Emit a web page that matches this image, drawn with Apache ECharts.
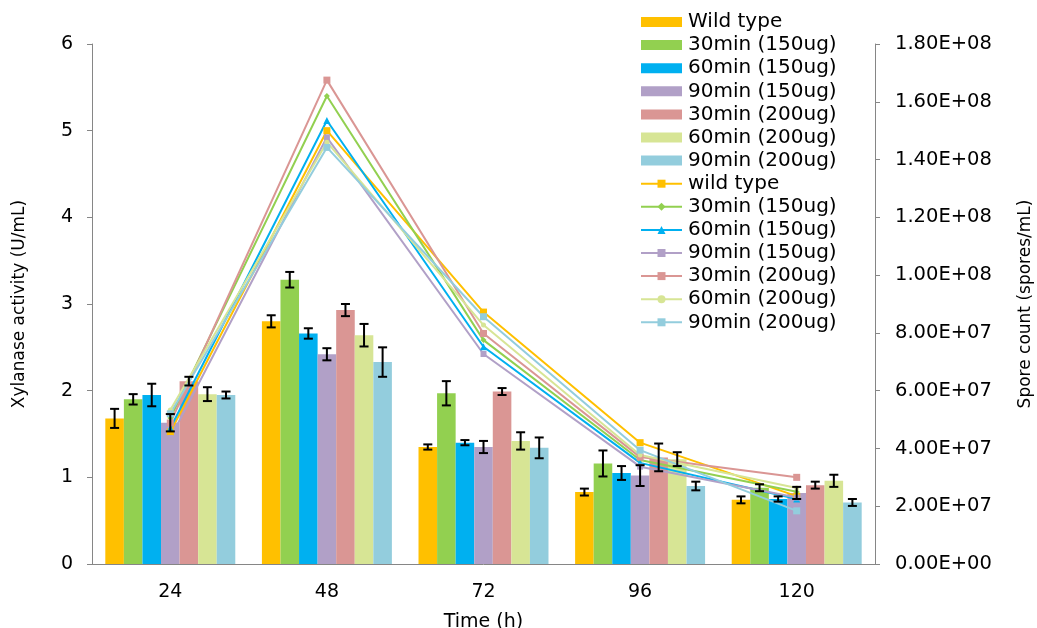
<!DOCTYPE html>
<html>
<head>
<meta charset="utf-8">
<script src="https://cdn.jsdelivr.net/npm/echarts@6/dist/echarts.min.js"></script>
<style>
  html, body { margin: 0; padding: 0; background: #fff; }
  #chart { width: 1037px; height: 628px; }
</style>
</head>
<body>
<div id="chart"></div>
<script>
// Sampling times (h)
var categories = ['24', '48', '72', '96', '120'];

// Xylanase activity (U/mL), bars
var actWild    = [1.68, 2.80, 1.35, 0.83, 0.74];
var act30_150  = [1.90, 3.28, 1.97, 1.16, 0.88];
var act60_150  = [1.95, 2.66, 1.40, 1.05, 0.75];
var act90_150  = [1.63, 2.42, 1.35, 1.02, 0.82];
var act30_200  = [2.11, 2.93, 1.99, 1.23, 0.91];
var act60_200  = [1.96, 2.64, 1.42, 1.21, 0.96];
var act90_200  = [1.95, 2.33, 1.34, 0.90, 0.71];

// Standard errors of xylanase activity
var errWild    = [0.11, 0.07, 0.03, 0.04, 0.04];
var err30_150  = [0.06, 0.09, 0.14, 0.15, 0.04];
var err60_150  = [0.13, 0.06, 0.03, 0.08, 0.03];
var err90_150  = [0.10, 0.07, 0.07, 0.12, 0.07];
var err30_200  = [0.05, 0.07, 0.04, 0.16, 0.04];
var err60_200  = [0.08, 0.13, 0.10, 0.08, 0.07];
var err90_200  = [0.04, 0.17, 0.12, 0.05, 0.04];

// Spore count (spores/mL), lines
var sporeWild   = [4.57e7, 1.50e8, 8.72e7, 4.20e7, 2.35e7];
var spore30_150 = [5.05e7, 1.62e8, 7.75e7, 3.60e7, 2.50e7];
var spore60_150 = [4.70e7, 1.535e8, 7.52e7, 3.50e7, 2.25e7];
var spore90_150 = [4.36e7, 1.477e8, 7.27e7, 3.37e7, 2.30e7];
var spore30_200 = [4.88e7, 1.675e8, 7.98e7, 3.70e7, 3.00e7];
var spore60_200 = [5.33e7, 1.46e8, 8.27e7, 3.77e7, 2.63e7];
var spore90_200 = [5.20e7, 1.442e8, 8.56e7, 3.94e7, 1.84e7];

var barNames  = ['Wild type', '30min (150ug)', '60min (150ug)', '90min (150ug)', '30min (200ug)', '60min (200ug)', '90min (200ug)'];
// line series need their own legend keys, so the duplicated labels carry a trailing space
var lineNames = ['wild type', '30min (150ug) ', '60min (150ug) ', '90min (150ug) ', '30min (200ug) ', '60min (200ug) ', '90min (200ug) '];

var colors = ['#FFC000', '#92D050', '#00B0F0', '#B1A0C7', '#DA9694', '#D7E595', '#93CDDD'];
var symbols = ['rect', 'diamond', 'triangle', 'rect', 'rect', 'circle', 'rect'];
var symbolSizes = [7, 6, 7, 6, 7, 5, 7];

var actSets = [actWild, act30_150, act60_150, act90_150, act30_200, act60_200, act90_200];
var errSets = [errWild, err30_150, err60_150, err90_150, err30_200, err60_200, err90_200];
var sporeSets = [sporeWild, spore30_150, spore60_150, spore90_150, spore30_200, spore60_200, spore90_200];

var FONT = 'DejaVu Sans';
var CAT_GAP = 0.17;
var NBARS = actSets.length;

function sci(v) {
  if (v === 0) return '0.00E+00';
  var e = Math.floor(Math.log10(Math.abs(v)) + 1e-9);
  var m = v / Math.pow(10, e);
  var es = (e < 0 ? '-' : '+') + (Math.abs(e) < 10 ? '0' : '') + Math.abs(e);
  return m.toFixed(2) + 'E' + es;
}

var series = [];
actSets.forEach(function (vals, i) {
  series.push({
    name: barNames[i],
    type: 'bar',
    data: vals,
    barGap: '0%',
    barCategoryGap: (CAT_GAP * 100) + '%',
    itemStyle: { color: colors[i] },
    z: 2
  });
});

// error bars: [category index, bar index, value, error]
var errData = [];
actSets.forEach(function (vals, i) {
  vals.forEach(function (v, c) { errData.push([c, i, v, errSets[i][c]]); });
});
series.push({
  type: 'custom',
  data: errData,
  encode: { x: 0, y: 2 },
  z: 5,
  silent: true,
  renderItem: function (params, api) {
    var c = api.value(0), i = api.value(1), v = api.value(2), e = api.value(3);
    var band = api.size([1, 0])[0];
    var bw = band * (1 - CAT_GAP) / NBARS;
    var off = (i - (NBARS - 1) / 2) * bw;
    var top = api.coord([c, v + e]);
    var bot = api.coord([c, v - e]);
    var x = top[0] + off;
    var cap = 4.5;
    var st = { stroke: '#000', lineWidth: 2 };
    return {
      type: 'group',
      children: [
        { type: 'line', shape: { x1: x, y1: top[1], x2: x, y2: bot[1] }, style: st },
        { type: 'line', shape: { x1: x - cap, y1: top[1], x2: x + cap, y2: top[1] }, style: st },
        { type: 'line', shape: { x1: x - cap, y1: bot[1], x2: x + cap, y2: bot[1] }, style: st }
      ]
    };
  }
});

sporeSets.forEach(function (vals, i) {
  series.push({
    name: lineNames[i],
    type: 'line',
    yAxisIndex: 1,
    data: vals,
    symbol: symbols[i],
    symbolSize: symbolSizes[i],
    showAllSymbol: true,
    lineStyle: { color: colors[i], width: 2 },
    itemStyle: { color: colors[i] },
    z: 4
  });
});

var legendData = barNames.map(function (n) { return { name: n, icon: 'rect' }; })
  .concat(lineNames.map(function (n) { return { name: n }; }));

var axisLineStyle = { color: '#868686', width: 1 };

var option = {
  animation: false,
  backgroundColor: '#ffffff',
  textStyle: { fontFamily: FONT },
  grid: { left: 92, right: 162, top: 44, bottom: 64, containLabel: false, outerBoundsMode: 'none' },
  legend: {
    orient: 'vertical',
    left: 640,
    top: 12,
    padding: 0,
    itemWidth: 41,
    itemHeight: 10,
    itemGap: 3.1,
    data: legendData,
    textStyle: { fontFamily: FONT, fontSize: 20, color: '#000', padding: [0, 0, 0, 1] },
    selectedMode: false
  },
  xAxis: {
    type: 'category',
    data: categories,
    name: 'Time (h)',
    nameLocation: 'middle',
    nameGap: 49,
    nameTextStyle: { fontFamily: FONT, fontSize: 19, color: '#000' },
    axisLine: { lineStyle: axisLineStyle },
    axisTick: { length: 6, lineStyle: axisLineStyle },
    axisLabel: { fontFamily: FONT, fontSize: 19, color: '#000', margin: 19 },
    splitLine: { show: false }
  },
  yAxis: [
    {
      type: 'value',
      min: 0, max: 6, interval: 1,
      name: 'Xylanase activity (U/mL)',
      nameLocation: 'middle',
      nameGap: 64,
      nameRotate: 90,
      nameTextStyle: { fontFamily: FONT, fontSize: 17, color: '#000' },
      axisLine: { show: true, lineStyle: axisLineStyle },
      axisTick: { show: true, length: 5, lineStyle: axisLineStyle },
      axisLabel: { fontFamily: FONT, fontSize: 19, color: '#000', margin: 19 },
      splitLine: { show: false }
    },
    {
      type: 'value',
      min: 0, max: 1.8e8, interval: 2e7,
      name: 'Spore count (spores/mL)',
      nameLocation: 'middle',
      nameGap: 142,
      nameRotate: 90,
      nameTextStyle: { fontFamily: FONT, fontSize: 17, color: '#000' },
      position: 'right',
      axisLine: { show: true, lineStyle: axisLineStyle },
      axisTick: { show: true, length: 5, lineStyle: axisLineStyle },
      axisLabel: { fontFamily: FONT, fontSize: 19.5, color: '#000', margin: 20, formatter: sci },
      splitLine: { show: false }
    }
  ],
  series: series
};

var chart = echarts.init(document.getElementById('chart'), null, { renderer: 'canvas' });
chart.setOption(option);
</script>
</body>
</html>
